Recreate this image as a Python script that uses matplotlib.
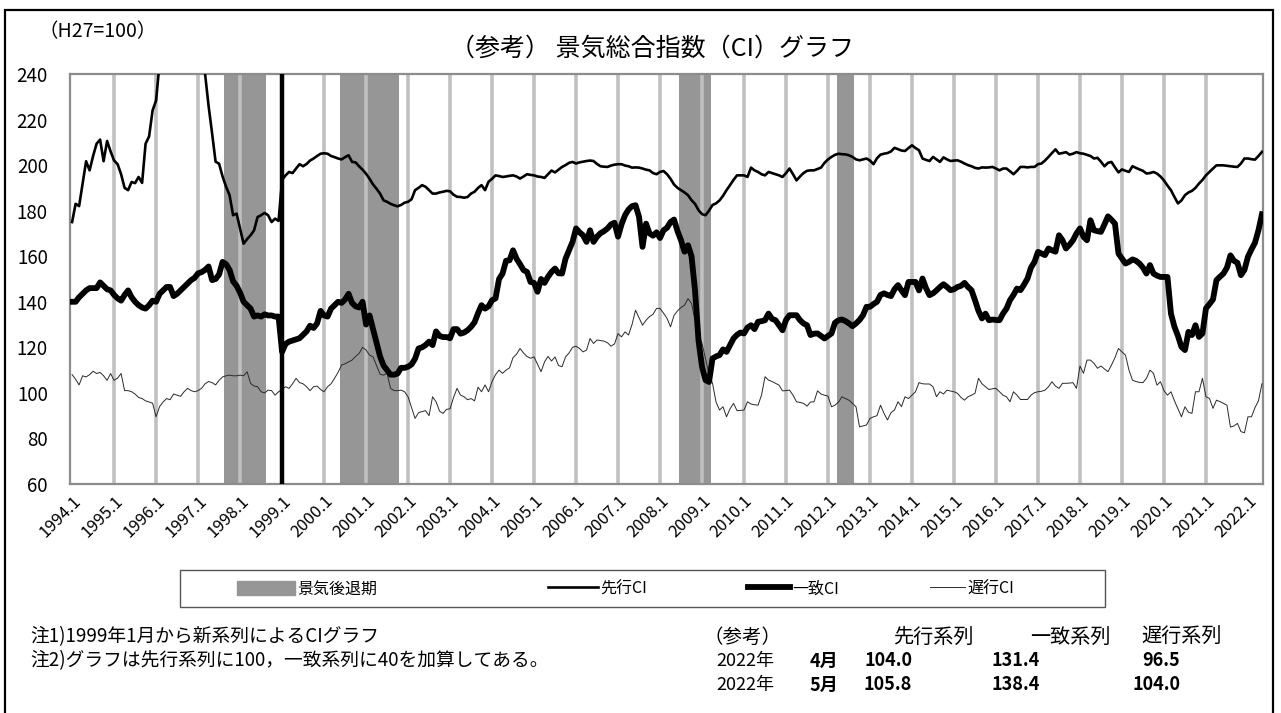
import matplotlib
matplotlib.use("Agg")
import matplotlib.pyplot as plt
import matplotlib.transforms as mtransforms
from matplotlib.patches import Rectangle, Patch
from matplotlib.lines import Line2D
import numpy as np

plt.rcParams['font.family'] = ['Noto Sans CJK JP', 'DejaVu Sans']

W, H = 1281, 713

# monthly values, first value = 1994.1 (leading +100, coincident +40)
lead = [
    175, 183, 182, 192, 201.7, 197.7, 204, 209.4, 211.2, 201.7, 210.6, 206,
    202, 200.4, 196, 190, 189, 192.6, 192.1, 194.8, 192.2, 209.4, 212.6, 224,
    228.4, 245, 252, 258, 262, 265, 268, 270, 268, 265, 262, 258,
    252, 246, 240, 226, 214, 201.5, 200.6, 195, 190.5, 186.8, 178, 178.7,
    172, 165.5, 167.5, 169.2, 171.4, 177.2, 178, 179, 178, 175, 176.5, 175.5,
    193.5, 195.5, 197, 196.5, 198.5, 200.4, 199.5, 200.5, 202, 202.9, 204, 205,
    205.2, 205, 204, 203.5, 202.9, 202.5, 203.5, 204.3, 201.4, 201.2, 199.5, 198,
    196.2, 194, 191.5, 189.6, 187.5, 184.5, 183.9, 183, 182.4, 181.9, 182.5, 183.5,
    183.9, 185, 189, 190, 191.2, 190.5, 189, 187.5, 187.5, 188, 188.3, 188.7,
    188.5, 187, 186.1, 186, 185.7, 186, 187.5, 188.3, 190, 191.2, 189, 192.7,
    194, 195.5, 195.2, 194.8, 195, 195.3, 195.5, 195, 194.1, 195, 196, 195.7,
    195.5, 195, 194.8, 194.4, 196, 197.6, 196.8, 198, 199.2, 200, 201, 201.4,
    200.7, 201.2, 201.5, 201.8, 202, 201.8, 200.5, 199.5, 199.3, 199.2, 199.8, 200.2,
    200.4, 200.4, 199.8, 199.5, 198.9, 199, 198.9, 198.5, 198, 197.7, 196.5, 196,
    197, 197.4, 196, 194, 191.5, 190, 189, 188, 186.8, 184.6, 183, 180.2,
    178.5, 178, 180, 182.5, 183.2, 184.5, 186.5, 189, 191.2, 193.5, 195.5, 195.5,
    195.5, 194.8, 198.9, 197.7, 197, 196, 195.5, 197, 196.5, 196, 195.5, 194.8,
    196.5, 198.5, 196, 193.3, 195, 196.5, 197.5, 197.7, 197.7, 198.3, 198.9, 201,
    202.5, 203.6, 204.5, 205, 204.8, 204.7, 204.3, 203.6, 202.5, 202.1, 202.5, 202.9,
    202, 200.4, 203, 204.6, 205, 205.3, 206, 207.6, 207, 206.4, 206.2, 207.5,
    208.7, 207.5, 206.5, 202.9, 202.3, 201.8, 203.6, 202.5, 201.4, 203.4, 202.5, 201.8,
    202, 202.1, 201.5, 200.7, 200, 199.5, 198.8, 198.5, 199, 198.9, 199, 199.2,
    198.5, 197.7, 198.5, 198.5, 197.3, 196, 197.5, 199.2, 199.2, 199, 199.2, 199.2,
    200.4, 200.7, 202, 203.6, 205.3, 206.9, 205, 205.3, 205.7, 204.6, 205, 205.7,
    205.2, 205, 204.5, 204, 202.9, 203.2, 201.5, 199.5, 201, 201.4, 199, 196.8,
    198.1, 197.5, 197, 199.5, 198.8, 198.1, 197.5, 196.3, 196.5, 197, 196.3, 195,
    193.3, 191, 189, 186, 183.2, 184.5, 186.8, 188, 188.7, 190, 191.9, 193.5,
    195.5, 197, 198.5, 199.9, 199.9, 199.9, 199.7, 199.5, 199.3, 199.2, 200.7, 202.9,
    202.9, 202.6, 202.4, 204.0, 205.8,
]

coin = [
    140, 140, 142, 143.5, 145, 146, 146, 146, 148.5, 147, 145.5, 145,
    143, 141.5, 140.5, 143, 145, 142, 140, 138.5, 137.5, 137, 138.5, 140.5,
    140, 143.5, 145, 146.5, 146.5, 142.5, 143.5, 145, 146.5, 148, 149.5, 150.5,
    152.5, 153, 154, 155.5, 149.5, 150, 152, 157.5, 156.5, 154, 149, 147,
    144, 140, 138.5, 137, 133.5, 134, 133.5, 134.5, 134, 134, 133.5, 133.5,
    118, 121.5, 122.5, 123, 123.5, 124, 125.5, 127, 129.5, 128.5, 130.5, 136,
    134, 133.5, 137, 138.5, 140, 139.5, 141, 143.5, 139.5, 138, 137.5, 140,
    130, 134, 128, 122, 116, 112, 110, 108, 108, 108.5, 111, 111,
    111.5, 112.5, 115, 119.5, 120, 121, 122.5, 121, 127, 125, 124.5, 124.5,
    124, 128, 128, 126, 126.5, 127.5, 129, 131, 135, 138.5, 137, 138,
    140.7, 141.5, 150, 152.4, 158, 158.2, 162.6, 158.9, 156.5, 153.9, 153.1, 148.7,
    148.3, 144.4, 150, 148.3, 151, 153.1, 154.6, 152.5, 152.4, 158.9, 162.6, 166.3,
    172.2, 170.5, 169.2, 166.3, 171.4, 166.3, 168.6, 170.1, 171, 172.2, 174, 174.7,
    168.6, 174, 178, 180.5, 182, 182.4, 177.3, 164.1, 174.3, 170, 169, 170.5,
    168, 171.4, 172.5, 175, 176.1, 171, 167, 162, 164.8, 160, 145, 123,
    111.5, 105.6, 104.8, 115.1, 116, 116.6, 119.1, 118, 121, 123.9, 125.5, 126.5,
    126.1, 128.7, 129.7, 128, 131.2, 131.5, 131.9, 134.8, 132.5, 131.9, 129.7, 127.5,
    132, 134.1, 134.1, 134.1, 131.9, 130.5, 129.7, 125.4, 126, 126.1, 125, 123.9,
    125, 126.1, 130.8, 131.9, 132.2, 131.5, 130.5, 129.3, 130.5, 132, 134.1, 137.8,
    137.8, 139, 140, 143, 143.7, 143, 142.5, 145.5, 147.3, 145, 142.9, 148.7,
    148.7, 148.7, 145, 150.2, 146, 142.9, 143.7, 145, 146.5, 147.7, 146.5, 145.1,
    145.5, 146.5, 147, 148.3, 146.5, 145.1, 140.7, 136, 132.7, 134.8, 131.9, 132.2,
    132, 131.9, 134.8, 137, 140.7, 143, 145.8, 145.1, 147.5, 150.2, 155, 157.5,
    161.9, 161.2, 160.5, 163.4, 162.6, 162, 169.2, 167, 163.4, 165, 167, 170,
    172.2, 168.6, 167, 175.8, 171.4, 171, 170.7, 174, 177.5, 176, 174.3, 161.2,
    159, 156.8, 157.5, 158.6, 158, 156.8, 155, 152.4, 156.1, 152.4, 151.5, 150.9,
    150.9, 150.9, 134.8, 129, 125, 120.2, 118.8, 126.8, 125.4, 129.7, 124.6, 126.1,
    137.1, 139, 141, 149.5, 151, 152.4, 155, 160.4, 158, 157.1, 151.7, 154,
    159.8, 163, 165.9, 171.4, 178.4,
]

lag = [
    108, 106, 103.5, 107.5, 107, 108, 109.5, 108.5, 109, 107.5, 105.5, 108.5,
    105.5, 106.5, 108.5, 101, 101, 100.5, 99.5, 98, 97.5, 96.5, 96, 95.5,
    89.5, 94, 96, 97.5, 97, 99.5, 99, 98.5, 100.5, 102, 101, 100.5,
    101, 102, 104, 105, 104.5, 103.5, 105.5, 107, 107.5, 107.8, 107.5, 107.5,
    107.8, 107.5, 109.3, 104.2, 103, 102.7, 100.5, 100, 101.2, 101, 99, 100.5,
    101.5, 102.7, 102, 104, 106.4, 104.5, 104, 102.7, 101, 102.7, 103, 101.5,
    100.5, 102.7, 104, 106.4, 109, 112.2, 112.8, 113.6, 114.4, 116, 117.3, 120,
    118.8, 116.6, 115.8, 112, 108.2, 107.8, 108.6, 102, 101, 101, 101.2, 100.5,
    98.3, 93.5, 88.8, 91.3, 91.8, 92.2, 90, 98.3, 96.1, 92, 91, 92.8,
    93, 98, 102, 99, 98.3, 97, 97.5, 96.5, 102.5, 100.5, 103.5, 100.5,
    105, 108, 110, 108.6, 110, 111, 115.5, 117, 119.5, 117.5, 116, 115.2,
    115.8, 112.5, 109.3, 113.6, 116, 114, 115.8, 112, 111.5, 115.8, 117.5, 120,
    120.5, 119.5, 118, 118.8, 123.9, 121.7, 123.2, 123, 122.7, 122, 120.5, 121.5,
    126, 124.6, 126.8, 125.4, 130, 136.3, 133, 129.7, 131.9, 133.5, 134.5, 137.1,
    137.1, 135, 132.7, 129, 134, 136, 137.5, 138.5, 141.4, 139.3, 132, 126,
    121.7, 115, 108, 104.2, 96, 92.5, 93.9, 89.5, 93, 95.4, 92.2, 92.3,
    92.5, 96.1, 95.1, 94.8, 94.6, 99, 107.1, 105.6, 105, 104.2, 103.4, 100.9,
    101, 101.2, 99, 96.1, 95.8, 95.4, 94.2, 96, 96.1, 100.9, 99.5, 99,
    98.6, 93.9, 94.6, 96, 98.3, 97.5, 96.8, 95.4, 93.9, 85.1, 85.5, 85.9,
    88.8, 89.5, 90, 94.6, 91, 88.1, 91.3, 92.5, 96.1, 94, 98.3, 97.5,
    99, 100.5, 104.5, 104, 103.9, 103.9, 102.7, 98.3, 100.5, 99.5, 101.2, 100.8,
    100.5, 99.8, 98, 96.8, 98.3, 99, 99.8, 106.4, 104, 102.7, 101.5, 101.8,
    102, 100.5, 99, 98.3, 96.1, 100.5, 99, 97.1, 97.1, 97.1, 99, 100.1,
    100.5, 100.7, 101.2, 102.7, 104.9, 103, 102, 104.2, 104.2, 104.3, 104.5, 102,
    111.8, 108.6, 114.4, 114.4, 113, 110.8, 111.8, 110.5, 109.3, 112.2, 115.5, 119.5,
    118, 116.6, 110, 105.6, 105, 104.6, 104.5, 106.4, 110, 108.6, 103.4, 104.9,
    101, 99, 100.5, 96.5, 93, 89.5, 93.9, 91.5, 91, 100.5, 100.5, 106.4,
    98.3, 97.6, 93.2, 96.8, 96.2, 95.4, 94.6, 85, 85.5, 86.6, 83, 82.5,
    89.5, 89.5, 93.5, 96.5, 104.0,
]

# recession periods (first month, last month)
recess_start = [(1997, 9), (2000, 6), (2008, 7), (2012, 4)]
recess_end = [(1998, 8), (2001, 10), (2009, 3), (2012, 8)]

years = list(range(1994, 2023))
new_series = (1999, 1)

table_head = ["（参考）", "先行系列", "一致系列", "遅行系列"]
table_rows = [("2022年", "4月", "104.0", "131.4", "96.5"),
              ("2022年", "5月", "105.8", "138.4", "104.0")]


def midx(ym):
    return (ym[0] - 1994) * 12 + ym[1] - 1


def fx(px):
    return px / W


def fy(py):
    return 1 - py / H


fig = plt.figure(figsize=(W / 100, H / 100), dpi=100)
fig.patch.set_facecolor("white")

# outer frame
fig.add_artist(Rectangle((fx(5), fy(720)), fx(1273) - fx(5), fy(10) - fy(720),
                         transform=fig.transFigure, fill=False, ec="black", lw=1.6))

ax = fig.add_axes([fx(70), fy(484), fx(1263) - fx(70), fy(74) - fy(484)])
m = np.arange(len(lead))

for s, e in zip(recess_start, recess_end):
    ax.axvspan(midx(s) - 0.5, midx(e) + 0.5, color="#969696", lw=0, zorder=1)

for y in years[1:-1]:
    ax.axvline(midx((y, 1)), color="#c0c0c0", lw=2.6, zorder=1.5)

ax.axvline(midx(new_series), color="black", lw=3.2, zorder=4)

ax.plot(m, lag, color="#2a2a2a", lw=0.7, zorder=3)
ax.plot(m, lead, color="black", lw=1.9, zorder=3)
ax.plot(m, coin, color="black", lw=4.2, zorder=3, solid_joinstyle="round")

ax.set_xlim(-0.6, len(lead) - 0.7)
ax.set_ylim(60, 240)
ax.set_yticks(range(60, 241, 20))
ax.set_xticks([midx((y, 1)) for y in years])
ax.set_xticklabels([f"{y}.1" for y in years], rotation=45, ha="right", va="top",
                   rotation_mode="anchor", fontsize=12)
off = mtransforms.ScaledTranslation(14 / 100, -2 / 100, fig.dpi_scale_trans)
for lab in ax.get_xticklabels():
    lab.set_transform(lab.get_transform() + off)
ax.tick_params(axis="x", length=0, pad=6)
ax.tick_params(axis="y", length=0, pad=16, labelsize=13.5)
for sp in ax.spines.values():
    sp.set_color("#8c8c8c")
    sp.set_linewidth(1.6)

fig.text(fx(38), fy(32), "（H27=100）", fontsize=14, va="center", ha="left")
fig.text(fx(652), fy(49), "（参考） 景気総合指数（CI）グラフ", fontsize=18, va="center", ha="center")

# legend
fig.add_artist(Rectangle((fx(180), fy(607)), fx(1105) - fx(180), fy(570) - fy(607),
                         transform=fig.transFigure, fill=False, ec="#555555", lw=1))
items = [
    (Patch(color="#969696"), "景気後退期", 237, 3.6),
    (Line2D([], [], color="black", lw=1.9), "先行CI", 548, 3.1),
    (Line2D([], [], color="black", lw=4.2), "一致CI", 748, 2.6),
    (Line2D([], [], color="#2a2a2a", lw=0.7), "遅行CI", 930, 2.2),
]
for h, lab, xp, hl in items:
    fig.legend([h], [lab], loc="center left", bbox_to_anchor=(fx(xp), fy(589)),
               frameon=False, handlelength=hl, handleheight=0.9, handletextpad=0.15,
               fontsize=11.5, borderpad=0, borderaxespad=0)

# notes
fig.text(fx(30), fy(637), "注1)1999年1月から新系列によるCIグラフ", fontsize=13.5, va="center")
fig.text(fx(30), fy(661), "注2)グラフは先行系列に100，一致系列に40を加算してある。", fontsize=13.5, va="center")

# reference table
fig.text(fx(703), fy(637), table_head[0], fontsize=14, va="center", ha="left")
for txt, xp in zip(table_head[1:], [933, 1070, 1182]):
    fig.text(fx(xp), fy(637), txt, fontsize=14.5, va="center", ha="center")
for r, row in enumerate(table_rows):
    yp = fy(661 + 24 * r)
    fig.text(fx(745), yp, row[0], fontsize=13, va="center", ha="center")
    fig.text(fx(824), yp, row[1], fontsize=13, va="center", ha="center", weight="bold")
    for txt, xp in zip(row[2:], [912, 1040, 1180]):
        fig.text(fx(xp), yp, txt, fontsize=13, va="center", ha="right", weight="bold")

fig.savefig("out.png", dpi=100)
